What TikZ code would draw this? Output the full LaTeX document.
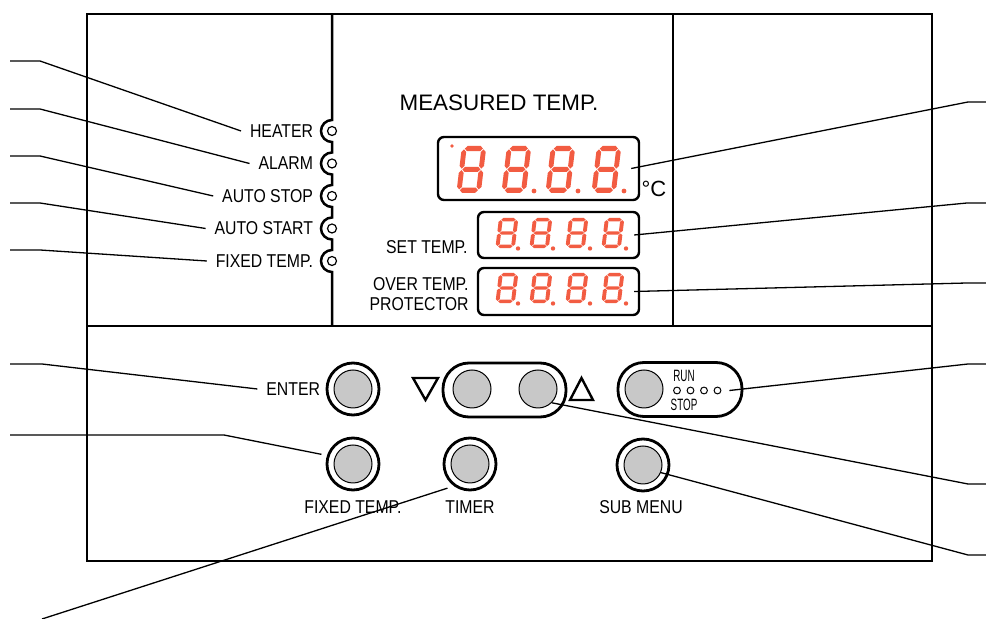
\documentclass[tikz,border=0pt]{standalone}
\usepackage{fontspec}
\setmainfont{Liberation Sans}
\newfontfamily\narrowfont{Liberation Sans}[FakeStretch=0.85]
\newfontfamily\runfont{Liberation Sans}[FakeStretch=0.6]
\definecolor{segred}{RGB}{242,92,66}
\definecolor{knobgray}{RGB}{200,200,200}
% one segment, horizontal (x1,x2,y) or vertical (x,y1,y2)
\newcommand{\hseg}[3]{\fill[segred] ({#1+.3},#3) -- ({#1+1.3},{#3-1}) -- ({#2-1.3},{#3-1}) -- ({#2-.3},#3) -- ({#2-1.3},{#3+1}) -- ({#1+1.3},{#3+1}) -- cycle;}
\newcommand{\vseg}[3]{\fill[segred] (#1,{#2+.3}) -- ({#1+1},{#2+1.3}) -- ({#1+1},{#3-1.3}) -- (#1,{#3-.3}) -- ({#1-1},{#3-1.3}) -- ({#1-1},{#2+1.3}) -- cycle;}
% a full "8" at (x,y) with xscale, yscale
\newcommand{\eightdigit}[4]{%
  \begin{scope}[shift={(#1,#2)},xslant=0.12,xscale=#3,yscale=#4]
    \hseg{1}{9}{1}\hseg{1}{9}{9}\hseg{1}{9}{17}
    \vseg{1}{1}{9}\vseg{9}{1}{9}\vseg{1}{9}{17}\vseg{9}{9}{17}
  \end{scope}}
\begin{document}
\begin{tikzpicture}[x=0.5pt,y=-0.5pt,
  panel/.style={line width=1.25pt},
  lead/.style={line width=0.65pt},
  ledlab/.style={font=\narrowfont\fontsize{9.3}{10}\selectfont,inner sep=1pt,outer sep=3.5pt},
  btnlab/.style={font=\narrowfont\fontsize{9.3}{10}\selectfont,inner sep=1pt},
  runtxt/.style={font=\runfont\fontsize{8.2}{9}\selectfont,inner sep=0pt},
  led/.style={circle,draw,line width=0.6pt,fill=white,minimum size=4.5pt,inner sep=0pt},
  display/.style={draw,rounded corners=3pt,line width=1.2pt,inner sep=0pt},
  ring/.style={circle,draw,line width=1.4pt,minimum size=26pt,inner sep=0pt,outer sep=3.5pt},
  knob/.style={circle,draw,line width=0.5pt,fill=knobgray,minimum size=19pt,inner sep=0pt},
  pill/.style={draw,rounded corners=13pt,line width=1.4pt,minimum height=27pt,inner sep=0pt},
  rdot/.style={circle,draw,line width=0.5pt,minimum size=3.4pt,inner sep=0pt},
  tri/.style={line width=1.2pt,line join=miter}]
\useasboundingbox (0,0) rectangle (986,619);

% panel outline
\draw[panel] (87,14) rectangle (932,561);
\draw[panel] (87,326) -- (932,326);
\draw[panel] (673,14) -- (673,326);
\draw[panel] (332,14) -- (332,120) arc[start angle=270,end angle=90,radius=11]
  -- (332,152.5) arc[start angle=270,end angle=90,radius=11]
  -- (332,185) arc[start angle=270,end angle=90,radius=11]
  -- (332,217.5) arc[start angle=270,end angle=90,radius=11]
  -- (332,250) arc[start angle=270,end angle=90,radius=11] -- (332,326);

% lamps
\node[led] (ledheater) at (332,131) {};
\node[led] (ledalarm) at (332,163.5) {};
\node[led] (ledstop) at (332,196) {};
\node[led] (ledstart) at (332,228.5) {};
\node[led] (ledfixed) at (332,261) {};
\node[ledlab,anchor=east] (heater) at (322,131) {HEATER};
\node[ledlab,anchor=east] (alarm) at (322,163.5) {ALARM};
\node[ledlab,anchor=east] (autostop) at (322,196) {AUTO STOP};
\node[ledlab,anchor=east] (autostart) at (322,228.5) {AUTO START};
\node[ledlab,anchor=east] (fixedled) at (322,261) {FIXED TEMP.};

% displays
\node[font=\fontsize{11.2}{12}\selectfont] (meastitle) at (499,103) {MEASURED TEMP.};
\node[display,minimum width=100.5pt,minimum height=31.5pt] (meas) at (538.5,168.5) {};
\node[display,minimum width=80.5pt,minimum height=23pt] (set) at (558.5,235) {};
\node[display,minimum width=80.5pt,minimum height=23.5pt] (over) at (558.5,291.5) {};
\node[font=\fontsize{11}{12}\selectfont,inner sep=0pt] (degc) at (654,189) {°C};
\node[btnlab,anchor=east] (settitle) at (470,247) {SET TEMP.};
\node[btnlab,anchor=east,align=right] (overtitle) at (471,294.5) {OVER TEMP.\\PROTECTOR};

\eightdigit{462}{146}{2.44}{2.6}
\eightdigit{507}{146}{2.44}{2.6}
\eightdigit{551}{146}{2.44}{2.6}
\eightdigit{597}{146}{2.44}{2.6}
\fill[segred] (452,146) circle (1.8);
\fill[segred] (534,191) circle (2.4);
\fill[segred] (578,191) circle (2.4);
\fill[segred] (624,191) circle (2.4);

\eightdigit{499}{218}{1.94}{1.67}
\eightdigit{533}{218}{1.94}{1.67}
\eightdigit{569}{218}{1.94}{1.67}
\eightdigit{605}{218}{1.94}{1.67}
\fill[segred] (518,248.5) circle (2.2);
\fill[segred] (553,248.5) circle (2.2);
\fill[segred] (590,248.5) circle (2.2);
\fill[segred] (626,248.5) circle (2.2);

\eightdigit{499}{273}{1.94}{1.67}
\eightdigit{533}{273}{1.94}{1.67}
\eightdigit{569}{273}{1.94}{1.67}
\eightdigit{605}{273}{1.94}{1.67}
\fill[segred] (518,303.5) circle (2.2);
\fill[segred] (553,303.5) circle (2.2);
\fill[segred] (590,303.5) circle (2.2);
\fill[segred] (626,303.5) circle (2.2);

% keys
\node[ring] (enterring) at (353,389) {};
\node[knob] (enter) at (353,389) {};
\node[ledlab,anchor=east] (enterlab) at (329,389) {ENTER};
\node[ring] (fixring) at (353,464) {};
\node[knob] (fix) at (353,464) {};
\node[btnlab] (fixlab) at (353,507) {FIXED TEMP.};
\node[ring] (timerring) at (470,464) {};
\node[knob] (timer) at (470,464) {};
\node[btnlab] (timerlab) at (470,507) {TIMER};
\node[ring] (subring) at (643,465) {};
\node[knob] (sub) at (643,465) {};
\node[btnlab] (sublab) at (641,507) {SUB MENU};

\node[pill,minimum width=61.5pt] (updown) at (504.5,390) {};
\node[knob] (down) at (472,389) {};
\node[knob] (up) at (538,389) {};
\draw[tri] (413,378) -- (438,378) -- (425.5,400) -- cycle;
\draw[tri] (570,400) -- (593,400) -- (581.5,378) -- cycle;

\node[pill,minimum width=62pt] (runstop) at (680,389.5) {};
\node[knob] (run) at (644,389) {};
\node[runtxt] (runlab) at (684,375.5) {RUN};
\node[runtxt] (stoplab) at (684,404.5) {STOP};
\node[rdot] (rd1) at (677,390.5) {};
\node[rdot] (rd2) at (690.5,390.5) {};
\node[rdot] (rd3) at (704,390.5) {};
\node[rdot] (rd4) at (717.5,390.5) {};

% leader ends
\coordinate (heaterend) at (10,61);
\coordinate (alarmend) at (10,109);
\coordinate (autostopend) at (10,156);
\coordinate (autostartend) at (10,203);
\coordinate (fixedledend) at (10,250);
\coordinate (enterend) at (10,364);
\coordinate (fixend) at (10,435);
\coordinate (timerend) at (42,619);
\coordinate (measend) at (986,102);
\coordinate (setend) at (986,203);
\coordinate (overend) at (986,283);
\coordinate (runend) at (986,364);
\coordinate (upend) at (986,484);
\coordinate (subend) at (986,555);

% leaders
\draw[lead] (heater.west) -- (40,61) -- (heaterend);
\draw[lead] (alarm.west) -- (40,109) -- (alarmend);
\draw[lead] (autostop.west) -- (40,156) -- (autostopend);
\draw[lead] (autostart.west) -- (40,203) -- (autostartend);
\draw[lead] (fixedled.west) -- (40,250) -- (fixedledend);
\draw[lead] (enterlab.west) -- (42,364) -- (enterend);
\draw[lead] (fixring.163) -- (224,435) -- (fixend);
\draw[lead] (timerring.227) -- (timerend);
\draw[lead] ([xshift=-4.5pt]meas.east) -- (968,102) -- (measend);
\draw[lead] ([xshift=-3pt]set.east) -- (967,203) -- (setend);
\draw[lead] ([xshift=-3pt]over.east) -- (967,283) -- (overend);
\draw[lead] ([xshift=4pt]rd4.east) -- (968,364) -- (runend);
\draw[lead] (up.-45) -- (968,484) -- (upend);
\draw[lead] (sub.-23) -- (968,555) -- (subend);
\end{tikzpicture}
\end{document}
